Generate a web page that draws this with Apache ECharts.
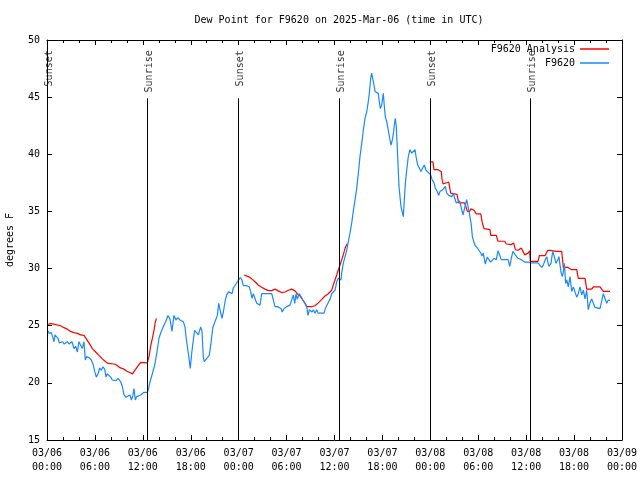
<!DOCTYPE html>
<html>
<head>
<meta charset="utf-8">
<script src="https://cdn.jsdelivr.net/npm/echarts@6/dist/echarts.min.js"></script>
<style>html,body{margin:0;padding:0;background:#fff;}#c{width:640px;height:480px;}</style>
</head>
<body>
<div id="c"></div>
<script>
// ---- data (hours after 2025-03-06 00:00 UTC) ----
const xTickLabels = ['03/06\n00:00','03/06\n06:00','03/06\n12:00','03/06\n18:00','03/07\n00:00','03/07\n06:00','03/07\n12:00','03/07\n18:00','03/08\n00:00','03/08\n06:00','03/08\n12:00','03/08\n18:00','03/09\n00:00'];
const yTicks = [15,20,25,30,35,40,45,50];

const eventNames = ['Sunset','Sunrise','Sunset','Sunrise','Sunset','Sunrise'];
const eventHours = [0.0, 12.56, 23.95, 36.6, 48.05, 60.52];

// observed dew point F9620
const obsHours = [0.13,0.25,0.38,0.54,0.71,0.88,1.0,1.21,1.38,1.54,1.71,1.96,2.13,2.34,2.55,2.75,2.96,3.13,3.38,3.59,3.8,4.0,4.21,4.42,4.63,4.8,4.97,5.26,5.55,5.8,5.97,6.18,6.39,6.6,6.8,7.01,7.22,7.39,7.55,7.8,7.98,8.18,8.39,8.64,8.89,9.22,9.43,9.64,9.89,10.14,10.39,10.56,10.73,10.89,11.06,11.23,11.48,11.73,11.98,12.15,12.56,12.69,12.9,13.19,13.49,13.82,14.02,14.31,14.56,14.86,15.15,15.4,15.65,15.9,16.15,16.4,
16.65,17.07,17.28,17.41,17.57,17.78,17.94,18.12,18.32,18.49,18.74,18.95,19.25,19.41,19.57,19.7,20.0,20.32,20.54,20.75,20.95,21.16,21.33,21.5,21.66,21.91,22.08,22.33,22.5,22.75,22.92,23.17,23.33,23.58,23.83,24.0,24.2,24.42,24.58,25.0,25.33,25.5,25.67,25.83,26.08,26.26,26.46,26.67,26.88,27.3,27.71,28.14,28.34,28.55,28.84,29.09,29.3,29.46,29.68,30.01,30.43,30.68,30.84,31.02,31.18,31.34,31.56,31.77,32.02,32.31,32.52,32.68,32.85,33.02,33.18,33.35,33.56,33.77,33.97,34.4,34.69,34.85,35.02,35.27,35.44,
35.65,36.06,36.28,36.48,36.69,36.81,36.9,37.1,37.32,37.53,37.73,37.94,38.15,38.35,38.57,38.78,38.98,39.19,39.41,39.61,39.82,40.03,40.23,40.36,40.53,40.66,40.78,40.95,41.07,41.28,41.48,41.61,41.74,41.91,42.11,42.24,42.36,42.54,42.74,42.95,43.08,43.24,43.41,43.49,43.61,43.74,43.91,44.08,44.2,44.33,44.49,44.62,44.74,44.87,45.04,45.24,45.45,45.67,45.87,46.08,46.21,46.42,46.62,46.83,47.04,47.25,47.46,
47.71,48.05,48.21,48.46,48.62,48.87,49.05,49.21,49.37,49.62,49.87,50.05,50.3,50.46,50.71,50.88,51.05,51.25,51.47,51.68,51.88,52.09,52.3,52.55,52.72,52.88,53.13,53.26,53.43,53.63,53.89,54.06,54.31,54.47,54.63,54.88,55.13,55.35,55.56,55.72,55.97,56.26,56.47,56.69,56.89,57.31,57.73,57.94,58.14,58.34,58.64,58.98,59.39,59.82,60.23,60.65,61.48,
61.73,61.95,62.15,62.36,62.57,62.7,62.86,63.11,63.32,63.52,63.74,63.95,64.11,64.24,64.36,64.53,64.65,64.78,64.95,65.08,65.28,65.49,65.7,65.91,66.12,66.33,66.53,66.74,66.95,67.16,67.37,67.58,67.78,67.99,68.21,68.41,68.62,68.83,69.25,69.46,69.66,69.87,70.09,70.29,70.5];
const obsValues = [24.57,24.33,24.2,24.4,24.0,23.6,24.2,24.3,23.9,23.5,23.6,23.6,23.4,23.4,23.6,23.4,23.4,23.6,23.0,23.2,22.7,23.6,23.3,23.0,23.6,22.0,22.3,22.2,22.0,21.56,21.0,20.5,20.8,21.3,21.1,21.4,21.2,20.5,20.8,20.9,20.5,20.25,20.4,20.2,20.4,20.1,19.7,18.94,18.74,18.8,18.94,18.5,18.8,19.5,18.5,18.8,18.85,18.94,18.94,19.17,19.17,19.4,20.1,20.8,21.56,22.9,23.9,24.5,24.9,25.35,25.9,25.6,24.5,25.9,25.5,25.7,
25.5,25.35,24.9,24.0,23.2,22.15,21.27,22.6,23.75,24.6,24.6,24.2,24.9,24.5,22.3,21.85,22.15,22.4,23.5,24.8,25.2,25.3,25.9,26.96,26.4,25.65,26.2,27.25,27.7,27.98,28.1,27.8,28.3,28.56,28.7,29.0,29.2,29.0,28.5,28.5,28.4,28.0,27.4,27.8,27.7,26.96,26.8,26.8,27.8,27.8,27.8,27.8,27.7,26.67,26.67,26.8,26.5,26.2,26.5,26.67,26.8,26.96,27.7,26.96,27.8,27.3,27.8,27.6,27.25,26.96,26.67,25.9,26.4,26.5,26.2,26.4,26.1,26.4,26.1,26.1,26.1,26.5,26.67,27.1,27.3,
27.8,28.1,28.85,29.15,29.3,29.0,29.6,30.46,31.04,31.6,32.35,33.1,33.96,35.0,36.0,37.0,38.3,39.8,40.96,42.1,43.15,43.7,44.6,45.33,46.65,47.1,46.65,46.06,45.5,45.33,45.33,44.6,44.0,44.3,45.33,44.2,43.3,42.85,42.1,41.25,40.8,41.25,41.98,42.56,43.15,42.4,39.8,37.16,36.3,35.4,35.4,34.54,36.0,37.46,38.6,39.8,40.4,40.1,40.2,40.4,39.8,39.06,38.8,38.5,38.8,39.06,38.6,
38.45,38.2,37.8,37.5,37.05,36.75,36.4,36.75,36.9,36.95,37.2,36.6,36.4,36.24,36.3,36.6,36.15,35.74,35.6,35.9,35.3,34.7,35.3,36.03,35.9,34.86,33.84,32.8,32.39,32.0,31.8,31.65,31.36,31.1,31.36,30.4,31.0,31.1,30.57,30.6,30.9,30.78,31.56,31.56,30.78,30.78,30.78,30.2,30.9,31.5,31.2,30.9,30.78,30.57,30.57,30.49,30.49,
30.46,30.1,30.3,30.75,31.04,30.6,30.2,30.46,31.5,31.04,30.46,30.75,31.04,30.3,29.7,29.3,29.7,30.46,28.7,29.0,28.4,29.3,28.0,28.4,28.3,27.5,27.8,28.4,27.7,28.1,27.35,28.1,26.4,27.0,27.35,26.96,26.6,26.5,26.5,26.67,27.8,27.7,26.96,27.25,27.2];

// analysis F9620 (three runs; null separates runs)
const anaHours = [0.13,0.42,1.08,1.71,2.13,2.55,2.96,3.38,3.8,4.21,4.63,4.84,5.26,5.68,6.1,6.5,6.93,7.35,7.64,8.39,8.72,9.13,9.64,10.06,10.39,10.68,10.98,11.31,11.73,12.56,12.77,12.98,13.19,13.4,13.53,13.69,
null,
24.67,25.21,25.63,26.05,26.46,26.88,27.3,27.71,28.14,28.55,28.96,29.39,29.8,30.22,30.64,31.05,31.34,31.68,31.89,32.18,32.52,32.72,33.15,33.56,33.97,34.4,34.81,35.22,35.65,35.85,36.06,36.28,36.48,36.69,36.9,37.1,37.32,37.6,
null,
47.92,48.33,48.46,48.96,49.09,49.37,49.46,49.59,49.84,50.3,50.55,51.34,51.55,52.3,52.5,52.63,52.93,53.06,53.47,53.76,54.31,54.51,54.72,55.47,55.56,56.26,56.47,57.31,57.51,58.14,58.44,58.64,58.98,59.39,59.82,60.23,60.44,60.52,61.48,61.65,62.36,62.7,62.99,63.2,63.74,64.11,64.45,64.65,65.24,65.7,66.33,66.53,67.37,67.58,68.21,68.41,69.25,69.66,70.5];
const anaValues = [25.1,25.2,25.1,25.0,24.83,24.7,24.5,24.4,24.33,24.2,24.15,24.0,23.5,23.0,22.7,22.4,22.1,21.85,21.7,21.65,21.56,21.33,21.2,21.0,20.9,20.77,21.07,21.4,21.8,21.75,22.3,23.2,23.9,24.6,25.2,25.65,
null,
29.44,29.3,29.1,28.85,28.56,28.36,28.2,28.07,28.07,28.2,28.05,27.9,27.95,28.1,28.2,28.05,27.8,27.6,27.4,27.1,26.67,26.5,26.67,26.75,27.0,27.3,27.6,27.8,28.1,28.56,29.0,29.44,29.9,30.3,30.75,31.2,31.77,32.2,
null,
39.33,39.33,38.65,38.65,38.5,38.5,37.86,37.4,37.57,37.57,36.6,36.5,35.74,35.74,35.3,35.0,35.0,35.24,35.1,34.78,34.78,33.99,33.5,33.4,32.9,32.9,32.39,32.39,32.15,32.1,32.24,31.65,31.6,31.8,31.2,31.35,31.56,30.63,30.63,31.13,31.13,31.6,31.6,31.5,31.5,31.5,31.5,30.1,30.1,29.9,29.9,29.15,29.15,28.2,28.2,28.4,28.4,28.0,28.0];

// ---- chart ----
const FONT = 'DejaVu Sans Mono';
const BLUE = '#1a88ff', RED = '#ff0000';
const obsData = obsHours.map((h,i)=>[h, obsValues[i]]);
const anaData = anaHours.map((h,i)=> h===null ? [null,null] : [h, anaValues[i]]);

const chart = echarts.init(document.getElementById('c'), null, {renderer:'canvas'});
const baseX = {
  type:'value', min:0, max:72, interval:6,
  axisLine:{show:true, onZero:false, lineStyle:{color:'#000', width:1}},
  axisTick:{show:true, inside:true, length:5, lineStyle:{color:'#000'}},
  minorTick:{show:true, splitNumber:3, length:3, lineStyle:{color:'#000'}},
  splitLine:{show:false}, minorSplitLine:{show:false}
};
const baseY = {
  type:'value', min:yTicks[0], max:yTicks[yTicks.length-1], interval:5,
  axisLine:{show:true, onZero:false, lineStyle:{color:'#000', width:1}},
  axisTick:{show:true, inside:true, length:5, lineStyle:{color:'#000'}},
  splitLine:{show:false}
};
const legendCommon = {orient:'vertical', align:'right', icon:'rect', itemWidth:29, itemHeight:1.5, padding:0,
  textStyle:{fontFamily:FONT, fontSize:10, color:'#000'}, selectedMode:false};
chart.setOption({
  animation:false,
  backgroundColor:'#fff',
  textStyle:{fontFamily:FONT},
  title:{text:'Dew Point for F9620 on 2025-Mar-06 (time in UTC)', left:334, top:10, textAlign:'center',
    textStyle:{fontFamily:FONT, fontSize:10, fontWeight:'normal', color:'#000'}},
  grid:{left:47, right:18, top:40, bottom:40, containLabel:false, outerBoundsMode:'none'},
  legend:[
    Object.assign({data:['F9620 Analysis'], right:31, top:44}, legendCommon),
    Object.assign({data:['F9620'], right:31, top:58}, legendCommon)
  ],
  xAxis:[
    Object.assign({}, baseX, {position:'bottom',
      axisLabel:{show:true, margin:6, fontFamily:FONT, fontSize:10, color:'#000', lineHeight:14,
        showMinLabel:true, showMaxLabel:true, hideOverlap:false,
        formatter:(v)=> xTickLabels[Math.round(v/6)] || ''}}),
    Object.assign({}, baseX, {position:'top', axisLabel:{show:false}})
  ],
  yAxis:[
    Object.assign({}, baseY, {position:'left', name:'degrees F', nameLocation:'middle', nameRotate:90, nameGap:32,
      nameTextStyle:{fontFamily:FONT, fontSize:10, color:'#000'},
      axisLabel:{show:true, margin:7, fontFamily:FONT, fontSize:10, color:'#000'}}),
    Object.assign({}, baseY, {position:'right', axisLabel:{show:false}})
  ],
  series:[
    {name:'F9620 Analysis', type:'line', data:anaData, showSymbol:false, symbol:'none', connectNulls:false,
     lineStyle:{color:RED, width:1.2}, itemStyle:{color:RED}, z:3},
    {name:'F9620', type:'line', data:obsData, showSymbol:false, symbol:'none',
     lineStyle:{color:BLUE, width:1.2}, itemStyle:{color:BLUE}, z:4},
    {name:'events', type:'scatter', symbolSize:0, silent:true, z:5,
     data:eventHours.map((h,i)=>[h, 49.1, eventNames[i]]),
     label:{show:true, position:[0,0], offset:[0,2], rotate:90, align:'right', verticalAlign:'middle',
       formatter:(p)=>p.data[2], fontFamily:FONT, fontSize:10, color:'#000'},
     markLine:{silent:true, symbol:['none','none'], label:{show:false},
       lineStyle:{color:'#000', width:1, type:'solid'},
       data:eventHours.map(h=>[{coord:[h,15]},{coord:[h,44.9]}])}}
  ]
});
</script>
</body>
</html>
